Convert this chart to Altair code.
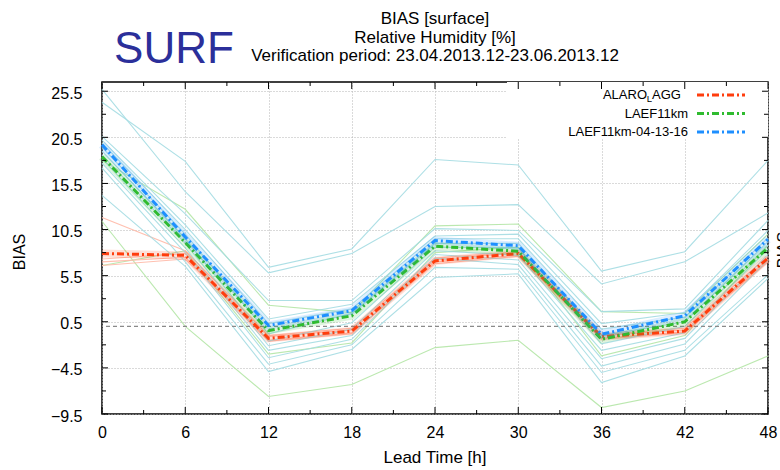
import altair as alt
import pandas as pd

# ---------------- data ----------------
lead = [0, 6, 12, 18, 24, 30, 36, 42, 48]

series_names = ["ALARO_LAGG", "LAEF11km", "LAEF11km-04-13-16"]
alaro_lagg = [7.9, 7.7, -1.3, -0.5, 7.1, 7.9, -1.1, -0.5, 7.4]
laef11km = [18.4, 9.1, -0.45, 1.15, 8.7, 8.15, -1.4, 0.5, 8.5]
laef11km_041316 = [19.7, 9.7, 0.1, 1.7, 9.3, 8.75, -0.85, 1.15, 9.45]

cyan_members = [
    [25.7, 14.6, 5.8, 7.9, 13.0, 13.2, 4.6, 7.0, 12.3],
    [24.3, 17.9, 6.4, 8.4, 18.1, 17.5, 6.0, 8.1, 18.0],
    [20.6, 12.2, 2.8, 2.8, 10.6, 10.4, 1.6, 1.9, 11.5],
    [20.2, 11.0, 0.8, 2.4, 9.8, 10.0, 0.3, 1.5, 10.4],
    [19.9, 10.5, 0.3, 1.9, 9.5, 9.5, -0.3, 1.0, 9.6],
    [19.4, 10.0, -0.8, 1.4, 9.0, 9.0, -1.0, 0.5, 9.2],
    [19.0, 9.5, -1.6, 0.4, 8.6, 8.5, -1.9, 0.0, 8.8],
    [18.6, 9.0, -2.1, -0.3, 8.2, 7.7, -2.6, -0.7, 8.4],
    [18.2, 8.5, -2.6, -1.0, 7.8, 7.2, -3.5, -1.3, 7.8],
    [17.7, 8.0, -3.4, -1.4, 7.4, 6.7, -4.3, -1.9, 7.2],
    [17.2, 7.0, -4.1, -2.0, 6.4, 6.2, -5.0, -2.6, 5.6],
    [14.2, 6.5, -4.9, -2.5, 5.3, 5.7, -6.1, -3.2, 5.2],
]
green_members = [
    [11.4, 0.0, -7.6, -6.3, -2.3, -1.5, -8.8, -7.0, -3.2],
    [18.0, 12.7, 2.3, 1.5, 10.9, 11.1, 1.6, 1.4, 10.0],
    [6.6, 8.2, -3.0, -1.8, 8.0, 8.6, -3.2, -1.0, 8.8],
]
red_members = [
    [11.8, 8.2, -1.0, -0.2, 7.4, 8.1, -0.9, -0.2, 7.6],
    [7.3, 7.9, -1.5, -0.7, 6.8, 7.6, -1.4, -0.7, 7.0],
    [7.0, 7.5, -1.6, -0.8, 7.0, 7.7, -1.3, -0.6, 7.1],
    [6.6, 7.3, -1.1, -0.4, 7.2, 8.0, -1.0, -0.4, 7.3],
]

y_major = [-9.5, -4.5, 0.5, 5.5, 10.5, 15.5, 20.5, 25.5]
y_minor = [-7.0, -2.0, 3.0, 8.0, 13.0, 18.0, 23.0]
x_minor = [3, 9, 15, 21, 27, 33, 39, 45]

title_lines = ["BIAS [surface]", "Relative Humidity [%]",
               "Verification period: 23.04.2013.12-23.06.2013.12"]

# ---------------- tables ----------------
rows = []
for grp, members in (("green", green_members), ("red", red_members), ("cyan", cyan_members)):
    for i, vals in enumerate(members):
        for x, v in zip(lead, vals):
            rows.append({"x": x, "y": v, "grp": grp, "member": f"{grp}{i}"})
thin_df = pd.DataFrame(rows)

main_vals = [alaro_lagg, laef11km, laef11km_041316]
main_colors = ["#ff3d0d", "#2fbb2f", "#1e8fff"]

FONT = "Liberation Sans, Arial, Helvetica, sans-serif"
W, H = 666, 332

xs = alt.Scale(domain=[0, 48], nice=False, zero=False)
ys = alt.Scale(domain=[-9.5, 26.5], nice=False, zero=False)

AX = alt.Axis(values=lead, grid=True, gridDash=[1, 2], gridColor="#b4b4b4", gridWidth=1,
              ticks=False, domain=False, labelFontSize=16, labelFont=FONT,
              labelColor="black", labelPadding=10, title=None, labelFlush=False)
AY = alt.Axis(values=y_major, format=".1f", grid=True, gridDash=[1, 2],
              gridColor="#b4b4b4", gridWidth=1, ticks=False, domain=False,
              labelFontSize=16, labelFont=FONT, labelColor="black",
              labelPadding=20, labelOffset=2, title=None)


def X(field="x"):
    return alt.X(f"{field}:Q", scale=xs, axis=AX, title=None)


def Y(field="y"):
    return alt.Y(f"{field}:Q", scale=ys, axis=AY, title=None)


one = pd.DataFrame({"k": [0]})
layers = []

# thin member lines (first layer carries the axes)
layers.append(alt.Chart(thin_df).mark_line(strokeWidth=1.1, opacity=0.9).encode(
    x=X(), y=Y(),
    color=alt.Color("grp:N", scale=alt.Scale(
        domain=["cyan", "green", "red"],
        range=["#a4dbe2", "#b4e6a6", "#ffb8a6"]), legend=None),
    detail="member:N"))

# white legend box (hides the grid there)
layers.append(alt.Chart(one).mark_rect(color="white").encode(
    x=alt.value(405), x2=alt.value(W), y=alt.value(0), y2=alt.value(56)))

# zero dashed line
layers.append(alt.Chart(pd.DataFrame({"y": [0.0]})).mark_rule(
    color="#8a8a8a", strokeDash=[4, 3], strokeWidth=1.3).encode(y=Y()))

# main series: halo + dash-dot line
for name, vals, col in zip(series_names, main_vals, main_colors):
    df = pd.DataFrame({"x": lead, "y": vals})
    layers.append(alt.Chart(df).mark_line(strokeWidth=8, opacity=0.16, color=col).encode(
        x=X(), y=Y()))
    layers.append(alt.Chart(df).mark_line(strokeWidth=3, strokeDash=[7, 3, 2, 3], color=col).encode(
        x=X(), y=Y()))

# inward ticks on all four sides
for vals, ln in ((y_major, 6), (y_minor, 4)):
    d = pd.DataFrame({"y": vals})
    layers.append(alt.Chart(d).mark_rule(color="black", strokeWidth=1).encode(
        y=Y(), x=alt.value(0), x2=alt.value(ln)))
    layers.append(alt.Chart(d).mark_rule(color="black", strokeWidth=1).encode(
        y=Y(), x=alt.value(W - ln), x2=alt.value(W)))
for vals, ln in ((lead, 7), (x_minor, 4)):
    d = pd.DataFrame({"x": vals})
    layers.append(alt.Chart(d).mark_rule(color="black", strokeWidth=1).encode(
        x=X(), y=alt.value(H - ln), y2=alt.value(H)))
    layers.append(alt.Chart(d).mark_rule(color="black", strokeWidth=1).encode(
        x=X(), y=alt.value(0), y2=alt.value(ln)))

# legend
leg_y = [13, 31.5, 50]
for name, col, ly in zip(series_names, main_colors, leg_y):
    layers.append(alt.Chart(one).mark_rule(strokeWidth=3, strokeDash=[7, 3, 2, 3], color=col).encode(
        x=alt.value(595), x2=alt.value(643), y=alt.value(ly)))
    if name == "ALARO_LAGG":
        parts = [("ALARO", 545, 13, 0, "right"), ("L", 547.5, 9.5, 4, "center"),
                 ("AGG", 550, 13, 0, "left")]
        for txt, px, fs, dy, al in parts:
            layers.append(alt.Chart(pd.DataFrame({"t": [txt]})).mark_text(
                font=FONT, fontSize=fs, align=al, baseline="middle", color="black").encode(
                x=alt.value(px), y=alt.value(ly + dy), text="t:N"))
    else:
        layers.append(alt.Chart(pd.DataFrame({"t": [name]})).mark_text(
            font=FONT, fontSize=13, align="right", baseline="middle", color="black").encode(
            x=alt.value(586), y=alt.value(ly), text="t:N"))

# titles
for i, line in enumerate(title_lines):
    layers.append(alt.Chart(pd.DataFrame({"t": [line]})).mark_text(
        font=FONT, fontSize=17, align="center", baseline="middle", color="black").encode(
        x=alt.value(333), y=alt.value(-63 + 18.5 * i), text="t:N"))

layers.append(alt.Chart(pd.DataFrame({"t": ["SURF"]})).mark_text(
    font=FONT, fontSize=44, align="center", baseline="middle", color="#2b2f9a").encode(
    x=alt.value(72), y=alt.value(-32), text="t:N"))

# axis titles
layers.append(alt.Chart(pd.DataFrame({"t": ["Lead Time [h]"]})).mark_text(
    font=FONT, fontSize=17, align="center", baseline="middle", color="black").encode(
    x=alt.value(333), y=alt.value(376), text="t:N"))
layers.append(alt.Chart(pd.DataFrame({"t": ["BIAS"]})).mark_text(
    font=FONT, fontSize=16, align="center", baseline="middle", angle=270, color="black").encode(
    x=alt.value(-82), y=alt.value(170), text="t:N"))
# partially visible label of the neighbouring panel
layers.append(alt.Chart(pd.DataFrame({"t": ["BIAS"]})).mark_text(
    font=FONT, fontSize=16, align="center", baseline="middle", angle=270, color="black").encode(
    x=alt.value(682), y=alt.value(168), text="t:N"))

chart = alt.layer(*layers).properties(
    width=W, height=H,
    autosize=alt.AutoSizeParams(type="none"),
    padding={"left": 102, "top": 82, "right": 12, "bottom": 56},
    background="white",
).configure_view(stroke="black", strokeWidth=1.5)

chart.save("out.html", embed_options={"renderer": "svg", "actions": False})
